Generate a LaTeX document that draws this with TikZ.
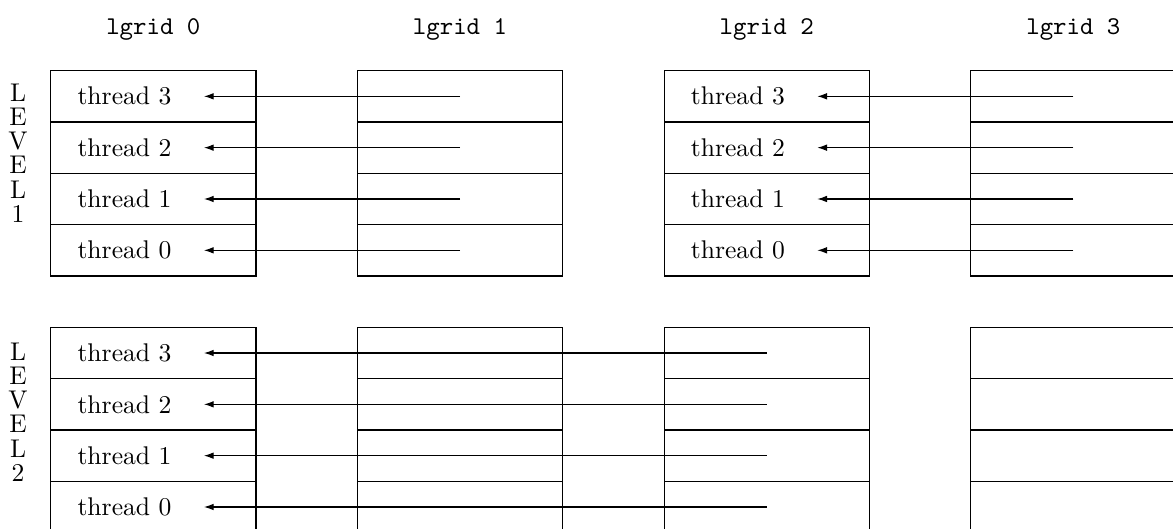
\documentclass[tikz,border=0pt]{standalone}
\usetikzlibrary{arrows.meta}
\begin{document}
\begin{tikzpicture}[x=0.390625pt, y=-0.390625pt,
  cell/.style={draw, rectangle, inner sep=0pt, outer sep=0pt,
               minimum width=80.2pt, minimum height=20.05pt},
  head/.style={font=\ttfamily, anchor=base, inner sep=0pt},
  lbl/.style={inner sep=0pt},
  lvl/.style={align=center, anchor=north, inner sep=0pt,
              font=\fontsize{10}{9.5}\selectfont},
  arr/.style={-{Latex[length=3.8pt,width=2.6pt]}}]
  \useasboundingbox (0,0) rectangle (1173,528);
  \clip (0,0) rectangle (1173,528);

  % column headers
  \foreach \c in {0,...,3}
    \node[head] (h\c) at ({153.33+306.67*\c},34.5) {lgrid \c};

  % level labels
  \node[lvl] (lv1) at (18,83) {L\\E\\V\\E\\L\\1};
  \node[lvl] (lv2) at (18,342) {L\\E\\V\\E\\L\\2};

  % cells: c-<level>-<column>-<thread>
  \foreach \l in {1,2}
    \foreach \c in {0,...,3}
      \foreach \r in {0,...,3}
        \node[cell] (c-\l-\c-\r) at ({153.33+306.67*\c},{96.33+51.33*(3-\r)+256.67*(\l-1)}) {};

  % thread labels and arrow targets: t/p-<level>-<column>-<thread>
  \foreach \l/\c in {1/0,1/2,2/0}
    \foreach \r in {0,...,3} {
      \node[lbl] (t-\l-\c-\r) at ({124.5+306.67*\c},{96.33+51.33*(3-\r)+256.67*(\l-1)}) {thread \r};
      \coordinate (p-\l-\c-\r) at ({204+306.67*\c},{96.33+51.33*(3-\r)+256.67*(\l-1)});
    }

  % level 1: lgrid 1 -> lgrid 0 and lgrid 3 -> lgrid 2
  \foreach \r in {0,...,3} {
    \draw[arr] (c-1-1-\r.center) -- (p-1-0-\r);
    \draw[arr] (c-1-3-\r.center) -- (p-1-2-\r);
  }

  % level 2: lgrid 2 -> lgrid 0
  \foreach \r in {0,...,3}
    \draw[arr] (c-2-2-\r.center) -- (p-2-0-\r);
\end{tikzpicture}
\end{document}
